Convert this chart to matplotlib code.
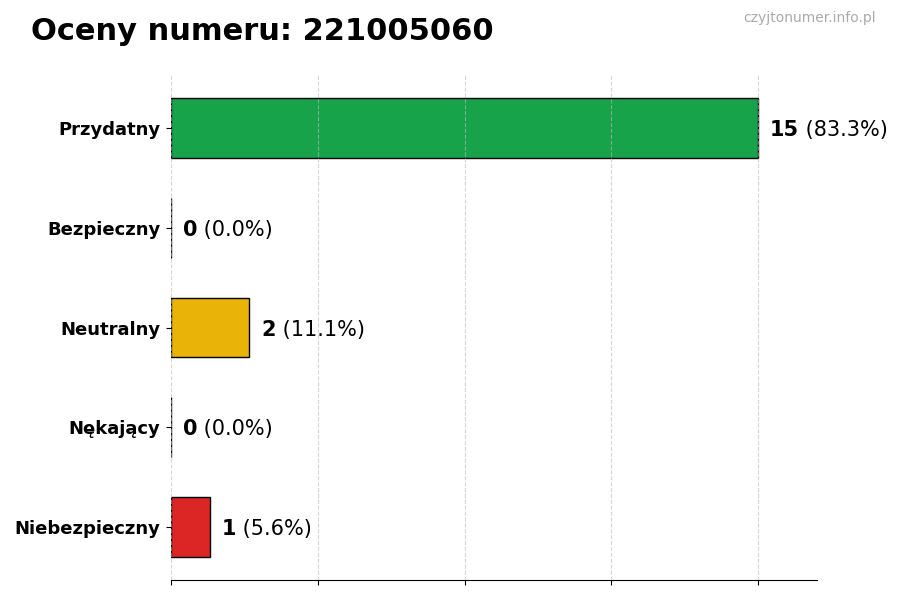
import matplotlib
matplotlib.use("Agg")
import matplotlib.pyplot as plt

categories = ["Przydatny", "Bezpieczny", "Neutralny", "Nękający", "Niebezpieczny"]
counts = [15, 0, 2, 0, 1]
colors = ["#16a34a", "#16a34a", "#eab308", "#dc2626", "#dc2626"]
phone = "221005060"

total = sum(counts)
fig = plt.figure(figsize=(9, 6), dpi=100)
ax = fig.add_axes([0.19, 0.0333, 0.7178, 0.8417])

ypos = list(range(len(categories)))[::-1]
ax.barh(ypos, counts, height=0.6, color=colors, edgecolor="black", linewidth=1)

ax.set_yticks(ypos)
ax.set_yticklabels(categories, fontsize=13, fontweight="bold")
ax.tick_params(axis="y", pad=4)
xmax = max(counts) * 1.1
ax.set_xlim(0, xmax)
ax.set_xticks([max(counts) * f for f in (0, 0.25, 0.5, 0.75, 1.0)])
ax.set_xticklabels([])
ax.grid(axis="x", linestyle="--", color="#bbbbbb", alpha=0.6, linewidth=0.8)
ax.set_axisbelow(False)
for s in ("top", "right", "left"):
    ax.spines[s].set_visible(False)

for y, c in zip(ypos, counts):
    pct = c / total * 100
    t = ax.text(c + 0.3, y, str(c), fontsize=15, fontweight="bold", va="center_baseline", ha="left")
    ax.annotate(f" ({pct:.1f}%)", xycoords=t, xy=(1, 0), va="bottom", ha="left", fontsize=15)

fig.text(0.034, 0.947, f"Oceny numeru: {phone}", fontsize=22, fontweight="bold", ha="left", va="center")
fig.text(0.973, 0.97, "czyjtonumer.info.pl", fontsize=10, color="#aaaaaa", ha="right", va="center")

fig.savefig("out.png", dpi=100)
